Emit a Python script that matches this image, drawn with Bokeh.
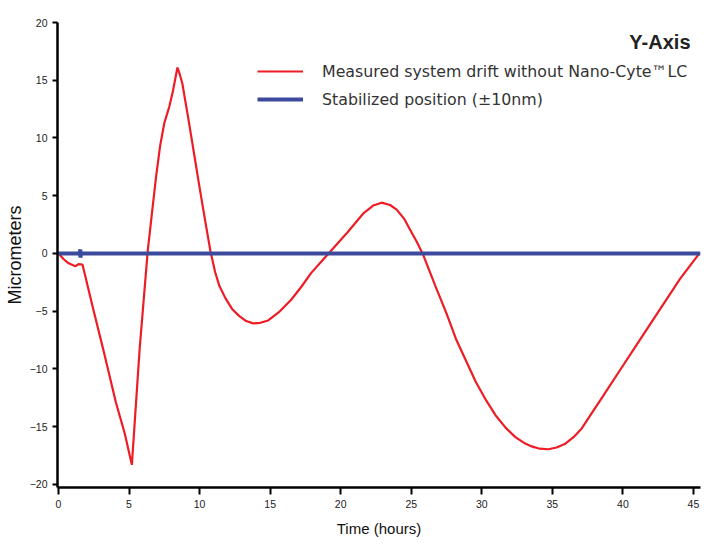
from bokeh.plotting import figure
from bokeh.models import Range1d, Legend, LegendItem, Label, FixedTicker
from bokeh.embed import file_html
from bokeh.resources import INLINE

# Measured drift (red) - hours / micrometers
drift_h = [0.0, 0.15, 0.37, 0.72, 1.0, 1.19, 1.42, 1.7, 2.4, 3.17, 4.07, 4.7, 5.2,
           5.75, 6.33, 6.92, 7.2, 7.5, 7.85, 8.1, 8.43, 8.6, 8.78, 9.2, 9.6, 10.0, 10.4,
           10.77, 11.1, 11.4, 11.8, 12.3, 12.8, 13.3, 13.8, 14.3, 14.86, 15.6, 16.49,
           17.2, 17.9, 19.06, 20.46, 21.63, 22.3, 22.9, 23.5, 23.97, 24.5, 24.9, 25.4,
           25.84, 26.77, 27.47, 28.17, 29.57, 30.3, 30.97, 31.7, 32.38, 33.0, 33.54,
           34.1, 34.71, 35.3, 35.88, 36.5, 37.05, 37.7, 38.45, 39.85, 41.25, 42.65,
           44.05, 45.45]
drift_v = [0.0, -0.2, -0.5, -0.85, -1.0, -1.1, -0.92, -0.95, -4.5, -8.3, -12.9, -15.6, -18.3,
           -8.3, 0.3, 6.7, 9.3, 11.3, 12.7, 14.0, 16.1, 15.5, 14.7, 11.7, 8.7, 5.7, 2.8,
           0.2, -1.6, -2.8, -3.8, -4.8, -5.4, -5.85, -6.05, -6.0, -5.8, -5.1, -4.0,
           -2.9, -1.7, -0.1, 1.8, 3.5, 4.15, 4.4, 4.2, 3.8, 3.0, 2.1, 1.0,
           -0.1, -3.0, -5.1, -7.4, -11.1, -12.7, -14.0, -15.1, -15.9, -16.4, -16.7,
           -16.9, -16.95, -16.8, -16.5, -15.9, -15.2, -14.0, -12.6, -10.0, -7.4, -4.8,
           -2.2, 0.06]

# Stabilized position (blue)
stab_h = [0.0, 1.5, 1.55, 1.55, 1.6, 20.0, 45.5]
stab_v = [0.0, 0.0, 0.35, -0.35, 0.0, 0.0, 0.0]

x_ticks = [0, 5, 10, 15, 20, 25, 30, 35, 40, 45]
y_ticks = [-20, -15, -10, -5, 0, 5, 10, 15, 20]

p = figure(width=703, height=539, output_backend="svg", toolbar_location=None,
           x_range=Range1d(-0.07, 45.5), y_range=Range1d(-20.26, 20.0),
           min_border_left=57, min_border_right=3, min_border_top=22, min_border_bottom=50)
p.outline_line_color = None
p.xgrid.visible = False
p.ygrid.visible = False
p.background_fill_color = "white"
p.border_fill_color = "white"

red = p.line(drift_h, drift_v, line_color="#ee1c25", line_width=2.2)
blue = p.line(stab_h, stab_v, line_color="#3b4a9c", line_width=4)

for ax in (p.xaxis[0], p.yaxis[0]):
    ax.axis_line_width = 2.5
    ax.axis_line_color = "black"
    ax.major_tick_line_width = 2
    ax.major_tick_line_color = "black"
    ax.minor_tick_line_color = None
    ax.major_label_text_font = "Liberation Sans"
    ax.major_label_text_font_size = "10.5px"
    ax.major_label_text_color = "#222222"
    ax.axis_label_text_font_style = "normal"
    ax.axis_label_text_color = "#111111"

p.xaxis.ticker = FixedTicker(ticks=x_ticks)
p.yaxis.ticker = FixedTicker(ticks=y_ticks)
p.xaxis.major_tick_in = 0
p.xaxis.major_tick_out = 7
p.yaxis.major_tick_in = 0
p.yaxis.major_tick_out = 5
p.xaxis.major_label_standoff = 5
p.yaxis.major_label_standoff = 5
p.xaxis.axis_label = "Time (hours)"
p.xaxis.axis_label_text_font = "Liberation Sans"
p.xaxis.axis_label_text_font_size = "15px"
p.xaxis.axis_label_standoff = 9
p.yaxis.axis_label = "Micrometers"
p.yaxis.axis_label_text_font = "Liberation Sans"
p.yaxis.axis_label_text_font_size = "18px"
p.yaxis.axis_label_standoff = 2

legend = Legend(items=[
    LegendItem(label="Measured system drift without Nano-Cyte\u2122LC", renderers=[red]),
    LegendItem(label="Stabilized position (\u00b110nm)", renderers=[blue]),
], location=(200, 378))
legend.glyph_width = 46
legend.glyph_height = 20
legend.label_height = 20
legend.spacing = 8
legend.padding = 0
legend.margin = 0
legend.label_standoff = 19
legend.border_line_color = None
legend.background_fill_alpha = 0
legend.label_text_font = "DejaVu Sans"
legend.label_text_font_size = "15.8px"
legend.label_text_color = "#333333"
p.add_layout(legend)

title = Label(x=633, y=446, x_units="screen", y_units="screen", text="Y-Axis",
              text_align="right", text_baseline="middle", text_font="Liberation Sans",
              text_font_size="20px", text_font_style="bold", text_color="#222222")
p.add_layout(title)

open("out.html", "w").write(file_html(p, INLINE))
